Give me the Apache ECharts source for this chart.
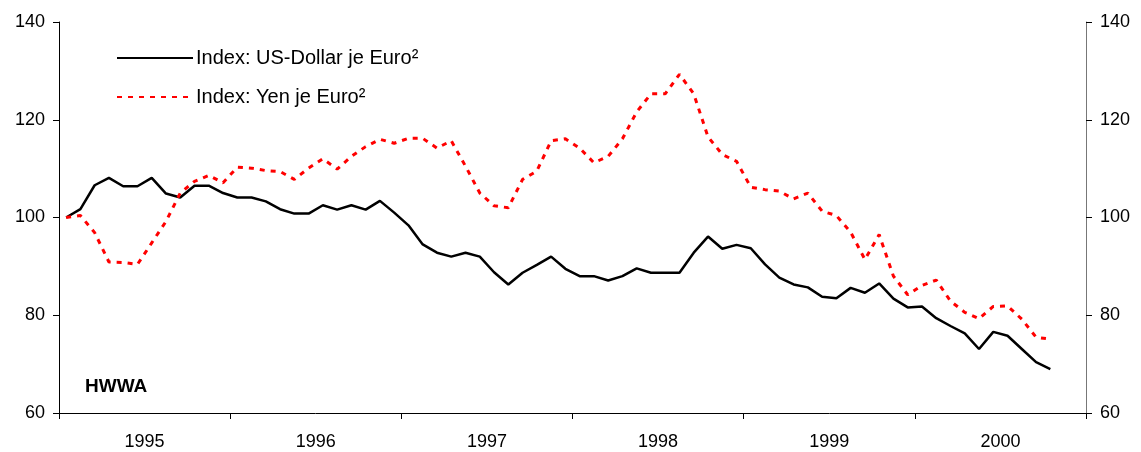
<!DOCTYPE html>
<html>
<head>
<meta charset="utf-8">
<script src="https://cdn.jsdelivr.net/npm/echarts@6/dist/echarts.min.js"></script>
<style>
  html, body { margin: 0; padding: 0; background: #fff; }
  #chart { width: 1141px; height: 452px; }
</style>
</head>
<body>
<div id="chart"></div>
<script>
// Monatswerte Jan 1995 bis Okt 2000 (Index, Jan 1995 = 100)
const years = ['1995', '1996', '1997', '1998', '1999', '2000']
const months = []
years.forEach(y => {
  for (let m = 1; m <= 12; m++) months.push(y + '-' + m)
})

const usdIndex = [
  100.0, 101.7, 106.6, 108.1, 106.4, 106.4, 108.1, 104.9, 104.1, 106.5, 106.5, 105.0,
  104.1, 104.1, 103.3, 101.7, 100.8, 100.8, 102.5, 101.6, 102.5, 101.6, 103.4, 101.0,
  98.4, 94.5, 92.8, 92.0, 92.8, 92.0, 88.8, 86.3, 88.7, 90.3, 92.0, 89.5,
  88.0, 88.0, 87.1, 88.0, 89.6, 88.7, 88.7, 88.7, 92.8, 96.1, 93.6, 94.4,
  93.7, 90.4, 87.7, 86.3, 85.7, 83.8, 83.5, 85.6, 84.6, 86.5, 83.4, 81.6,
  81.8, 79.4, 77.8, 76.3, 73.1, 76.6, 75.8, 73.1, 70.4, 69.0
]

const yenIndex = [
  100.0, 100.4, 96.9, 90.9, 90.8, 90.4, 94.8, 99.2, 105.0, 107.4, 108.6, 107.1,
  110.3, 110.1, 109.6, 109.4, 107.8, 110.1, 112.0, 109.9, 112.5, 114.5, 116.0, 115.2,
  116.2, 116.2, 114.2, 115.7, 110.5, 105.0, 102.4, 102.0, 107.8, 109.5, 115.7, 116.1,
  114.2, 111.2, 112.5, 116.1, 121.6, 125.3, 125.3, 129.3, 125.3, 116.5, 112.9, 111.5,
  106.2, 105.7, 105.4, 103.8, 105.0, 101.3, 100.4, 97.0, 91.4, 96.5, 88.0, 84.2,
  86.1, 87.2, 82.9, 80.6, 79.3, 81.8, 81.9, 79.2, 75.5, 75.1
]

const yTicks = { min: 60, max: 140, interval: 20 }

let myChart = echarts.init(document.getElementById('chart'))
const fontFamily = '"Liberation Sans", Arial, sans-serif'

const yAxisBase = {
  type: 'value',
  min: yTicks.min,
  max: yTicks.max,
  interval: yTicks.interval,
  splitLine: { show: false },
  axisTick: { show: true, inside: false, length: 6, lineStyle: { color: '#000' } },
  axisLabel: { color: '#000', fontSize: 18, fontFamily: fontFamily, margin: 14 }
}

const option = {
  animation: false,
  backgroundColor: '#fff',
  textStyle: { fontFamily: fontFamily },
  grid: { left: 59, right: 55, top: 22, bottom: 39, containLabel: false },
  legend: {
    orient: 'vertical',
    left: 111,
    top: 43,
    itemWidth: 76,
    itemHeight: 14,
    itemGap: 19,
    // nur die Linie zeigen, kein Punkt in der Mitte
    itemStyle: { opacity: 0 },
    textStyle: { color: '#000', fontSize: 20, fontFamily: fontFamily, padding: [0, 0, 0, -2] },
    data: ['Index: US-Dollar je Euro²', 'Index: Yen je Euro²']
  },
  graphic: [
    {
      type: 'text',
      left: 85,
      top: 377,
      style: { text: 'HWWA', fontSize: 19, fontWeight: 'bold', fill: '#000', fontFamily: fontFamily }
    }
  ],
  xAxis: [
    {
      type: 'category',
      data: months,
      boundaryGap: true,
      axisLine: { lineStyle: { color: '#000', width: 1 } },
      axisTick: { show: true, interval: 11, length: 6, lineStyle: { color: '#000' } },
      axisLabel: { show: false }
    },
    {
      type: 'category',
      data: years,
      position: 'bottom',
      boundaryGap: true,
      axisLine: { show: false },
      axisTick: { show: false },
      axisLabel: { color: '#000', fontSize: 18, fontFamily: fontFamily, margin: 20 }
    }
  ],
  yAxis: [
    Object.assign({}, yAxisBase, {
      position: 'left',
      axisLine: { show: true, lineStyle: { color: '#000', width: 1 } }
    }),
    Object.assign({}, yAxisBase, {
      position: 'right',
      axisLine: { show: true, lineStyle: { color: '#777', width: 1 } }
    })
  ],
  series: [
    {
      name: 'Index: US-Dollar je Euro²',
      type: 'line',
      data: usdIndex,
      symbol: 'none',
      lineStyle: { color: '#000', width: 2.5 },
      itemStyle: { color: '#000' }
    },
    {
      name: 'Index: Yen je Euro²',
      type: 'line',
      data: yenIndex,
      symbol: 'none',
      lineStyle: { color: '#ff0000', width: 3, type: [5, 6] },
      itemStyle: { color: '#ff0000' }
    }
  ]
}
myChart.setOption(option)
</script>
</body>
</html>
